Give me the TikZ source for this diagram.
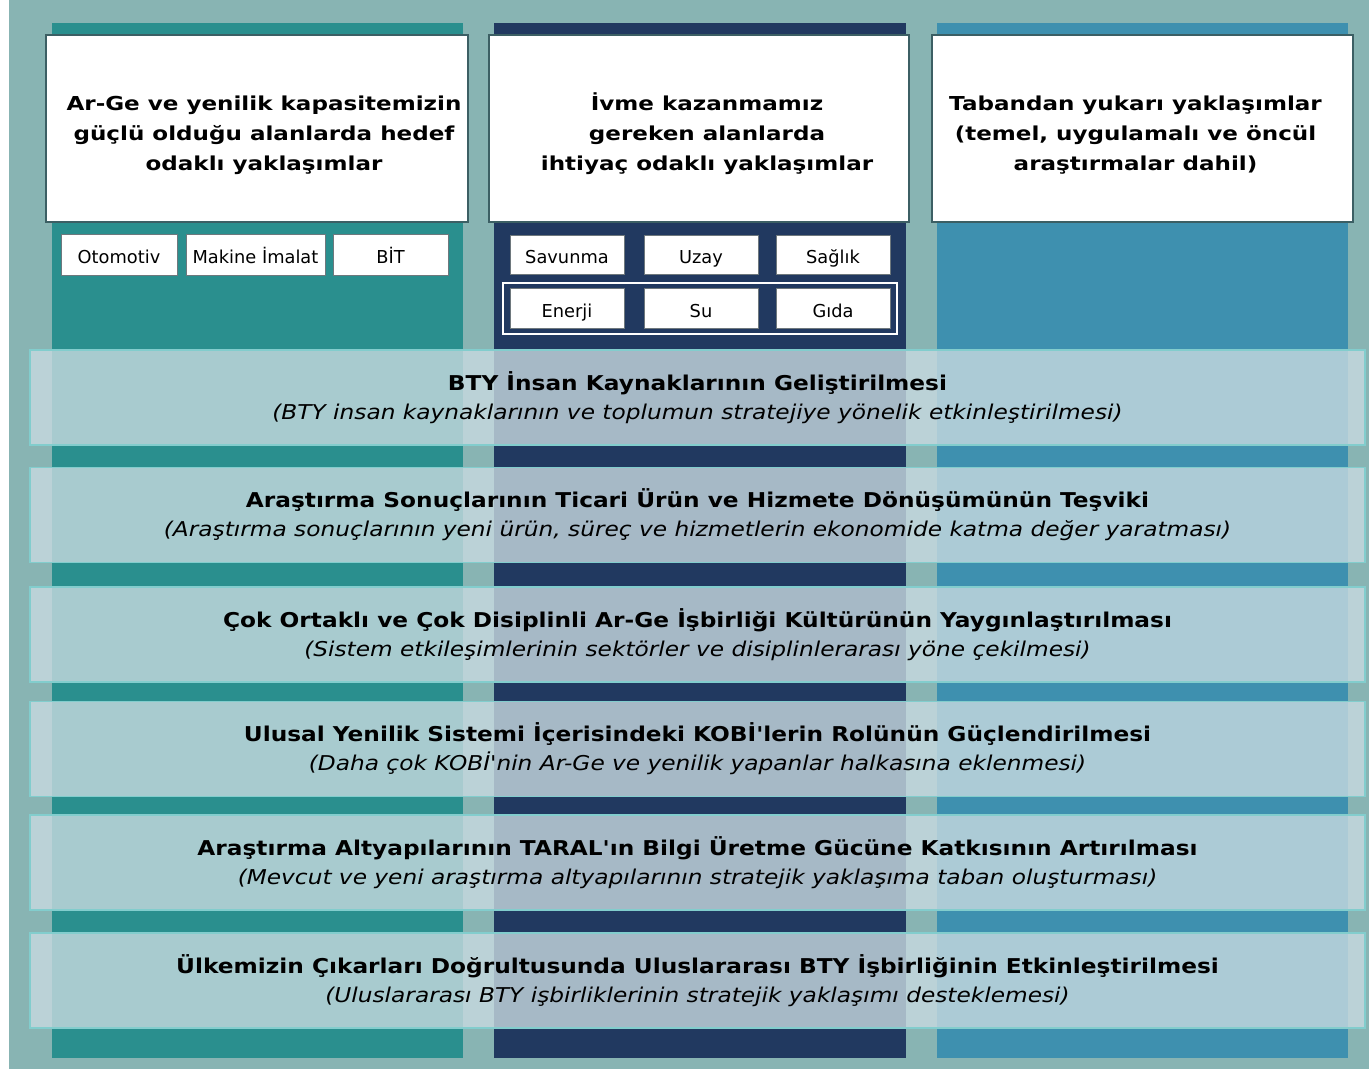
\documentclass[tikz,border=0pt]{standalone}
\usepackage{fontspec}
\setmainfont{DejaVu Sans}
\newfontfamily\hdfont[FakeStretch=1.2]{DejaVu Sans}
\newfontfamily\bdfont[FakeStretch=1.14]{DejaVu Sans}
\definecolor{bgc}{RGB}{136,180,179}
\definecolor{tealc}{RGB}{42,143,142}
\definecolor{navyc}{RGB}{33,57,96}
\definecolor{bluec}{RGB}{62,144,175}
\definecolor{hdrline}{RGB}{60,95,100}
\definecolor{smline}{RGB}{110,120,125}
\definecolor{bandfill}{RGB}{200,218,224}
\definecolor{bandline}{RGB}{130,205,205}
\begin{document}
\begin{tikzpicture}[x=1pt,y=-1pt,
  hdr/.style={draw=hdrline, line width=1.5pt, fill=white, inner sep=0pt},
  hdrtxt/.style={align=center, inner sep=0pt, font=\hdfont\bfseries\fontsize{19.2}{30}\selectfont},
  smallbox/.style={draw=smline, line width=0.8pt, fill=white, inner sep=0pt, text height=20pt, text depth=1.6pt, font=\fontsize{17.8}{20}\selectfont},
  grpbox/.style={draw=white, line width=2pt, inner sep=0pt},
  band/.style={draw=bandline, line width=1.5pt, fill=bandfill, fill opacity=0.8, text opacity=1, inner sep=0pt, minimum width=1335pt, minimum height=95pt, align=center, font=\bdfont\fontsize{20.4}{29}\selectfont}
]
\useasboundingbox (0,0) rectangle (1369,1069);
\fill[bgc] (9,0) rectangle (1369,1069);
% columns
\fill[tealc] (52,23) rectangle (463,1058);
\fill[navyc] (494,23) rectangle (906,1058);
\fill[bluec] (937,23) rectangle (1348,1058);
% headers
\node[hdr, minimum width=422pt, minimum height=187pt] (h1) at (257,128.5) {};
\node[hdr, minimum width=420pt, minimum height=187pt] (h2) at (699,128.5) {};
\node[hdr, minimum width=421pt, minimum height=187pt] (h3) at (1142.5,128.5) {};
\node[hdrtxt] (t1) at ([xshift=7pt,yshift=-6.5pt]h1.center) {Ar-Ge ve yenilik kapasitemizin\\güçlü olduğu alanlarda hedef\\odaklı yaklaşımlar};
\node[hdrtxt] (t2) at ([xshift=8pt,yshift=-5.5pt]h2.center) {İvme kazanmamız\\gereken alanlarda\\ihtiyaç odaklı yaklaşımlar};
\node[hdrtxt] (t3) at ([xshift=-7pt,yshift=-6.5pt]h3.center) {Tabandan yukarı yaklaşımlar\\(temel, uygulamalı ve öncül\\araştırmalar dahil)};
% left small boxes
\node[smallbox, minimum width=116pt, minimum height=41pt] (oto) at (119,254.5) {Otomotiv};
\node[smallbox, minimum width=139pt, minimum height=41pt] (mak) at (255.5,254.5) {Makine İmalat};
\node[smallbox, minimum width=115pt, minimum height=41pt] (bit) at (390.5,254.5) {BİT};
% middle small boxes
\node[grpbox, minimum width=394pt, minimum height=51pt] (grp) at (700,308.5) {};
\node[smallbox, minimum width=114pt, minimum height=39pt] (sav) at (567,254.5) {Savunma};
\node[smallbox, minimum width=114pt, minimum height=39pt] (uza) at (701,254.5) {Uzay};
\node[smallbox, minimum width=114pt, minimum height=39pt] (sag) at (833,254.5) {Sağlık};
\node[smallbox, minimum width=114pt, minimum height=40pt] (ene) at (567,308) {Enerji};
\node[smallbox, minimum width=114pt, minimum height=40pt] (su) at (701,308) {Su};
\node[smallbox, minimum width=114pt, minimum height=40pt] (gid) at (833,308) {Gıda};
% bands
\node[band] (b1) at (697.5,397.5) {\textbf{BTY İnsan Kaynaklarının Geliştirilmesi}\\\textit{(BTY insan kaynaklarının ve toplumun stratejiye yönelik etkinleştirilmesi)}};
\node[band] (b2) at (697.5,515) {\textbf{Araştırma Sonuçlarının Ticari Ürün ve Hizmete Dönüşümünün Teşviki}\\\textit{(Araştırma sonuçlarının yeni ürün, süreç ve hizmetlerin ekonomide katma değer yaratması)}};
\node[band] (b3) at (697.5,634.5) {\textbf{Çok Ortaklı ve Çok Disiplinli Ar-Ge İşbirliği Kültürünün Yaygınlaştırılması}\\\textit{(Sistem etkileşimlerinin sektörler ve disiplinlerarası yöne çekilmesi)}};
\node[band] (b4) at (697.5,749) {\textbf{Ulusal Yenilik Sistemi İçerisindeki KOBİ'lerin Rolünün Güçlendirilmesi}\\\textit{(Daha çok KOBİ'nin Ar-Ge ve yenilik yapanlar halkasına eklenmesi)}};
\node[band] (b5) at (697.5,862.5) {\textbf{Araştırma Altyapılarının TARAL'ın Bilgi Üretme Gücüne Katkısının Artırılması}\\\textit{(Mevcut ve yeni araştırma altyapılarının stratejik yaklaşıma taban oluşturması)}};
\node[band] (b6) at (697.5,980.5) {\textbf{Ülkemizin Çıkarları Doğrultusunda Uluslararası BTY İşbirliğinin Etkinleştirilmesi}\\\textit{(Uluslararası BTY işbirliklerinin stratejik yaklaşımı desteklemesi)}};
\end{tikzpicture}
\end{document}
